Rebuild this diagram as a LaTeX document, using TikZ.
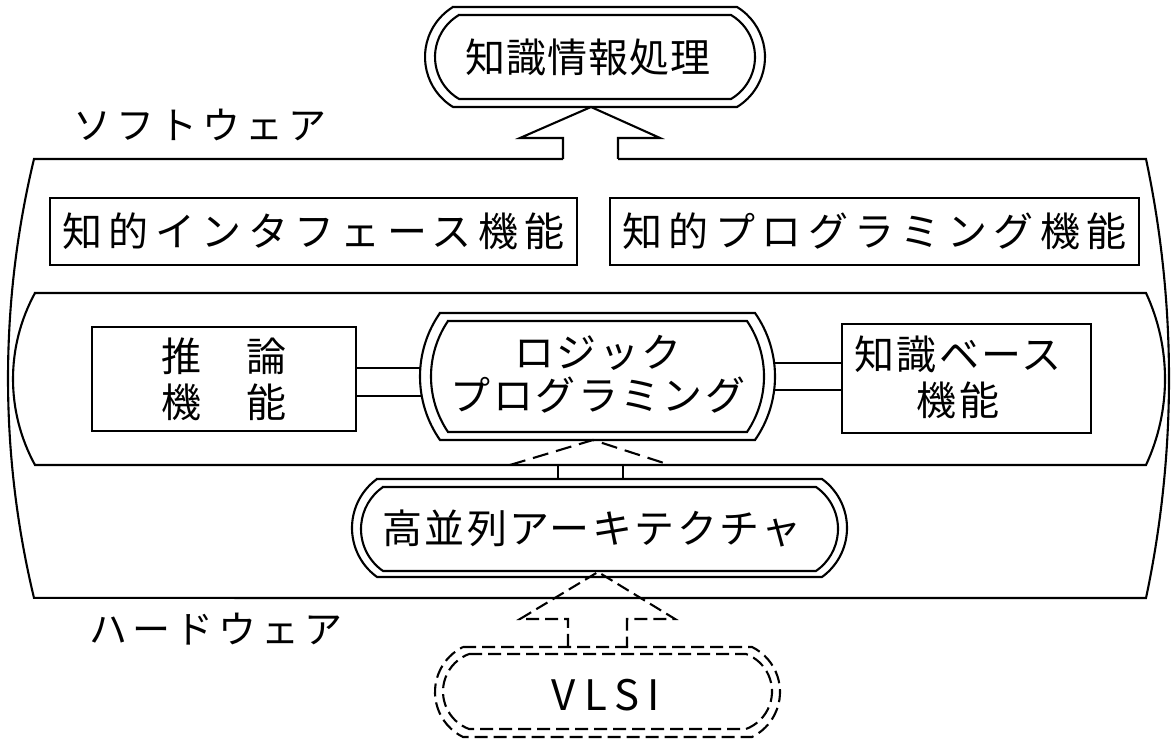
\documentclass[tikz,border=0pt]{standalone}
\usepackage{fontspec}
\newfontfamily\jpT[LetterSpace=2.5]{Noto Sans CJK JP}
\newfontfamily\jpA[LetterSpace=6]{Noto Sans CJK JP}
\newfontfamily\jpB[LetterSpace=16]{Noto Sans CJK JP}
\newfontfamily\jpL[LetterSpace=13]{Noto Sans CJK JP}
\newfontfamily\jpV[LetterSpace=20]{Noto Sans CJK JP}
\usetikzlibrary{calc}
% lens-ended box: #2 xl, #3 xr (corner x), #4 ybot, #5 ytop, #6 left sagitta, #7 right sagitta
\newcommand\lensbox[7][]{%
  \pgfmathsetmacro\lbh{(#5-#4)/2}%
  \pgfmathsetmacro\lbrL{\lbh*(\lbh/(2*#6))+#6/2}%
  \pgfmathsetmacro\lbaL{asin(\lbh/\lbrL)}%
  \pgfmathsetmacro\lbrR{\lbh*(\lbh/(2*#7))+#7/2}%
  \pgfmathsetmacro\lbaR{asin(\lbh/\lbrR)}%
  \draw[#1] (#2,#5) -- (#3,#5) arc[start angle=\lbaR, end angle=-\lbaR, radius=\lbrR]
    -- (#2,#4) arc[start angle={180+\lbaL}, end angle={180-\lbaL}, radius=\lbrL] -- cycle;}
\begin{document}
\begin{tikzpicture}[x=0.5pt,y=0.5pt,line width=1.05pt,line join=miter,
  lbl/.style={font=\jpL\fontsize{19pt}{22pt}\selectfont, inner sep=0},
  txt/.style={font=\jpA\fontsize{20pt}{23pt}\selectfont, inner sep=0, align=center},
  boxnode/.style={draw, fill=white, inner sep=0, align=center},
  dshA/.style={dash pattern=on 8pt off 4pt},
  dshV/.style={dash pattern=on 6.5pt off 3pt}]
\fill[white] (0,0) rectangle (1171,742);
\useasboundingbox (0,0) rectangle (1171,742);

% ---- outer big shape (software/hardware frame), open at the top for the arrow stem
\pgfmathsetmacro\oh{(583-144)/2}
\pgfmathsetmacro\orL{\oh*(\oh/52)+13}
\pgfmathsetmacro\oaL{asin(\oh/\orL)}
\pgfmathsetmacro\orR{\oh*(\oh/46)+11.5}
\pgfmathsetmacro\oaR{asin(\oh/\orR)}
\draw (563,583) -- (34,583) arc[start angle={180-\oaL}, end angle={180+\oaL}, radius=\orL]
  -- (1146,144) arc[start angle={-\oaR}, end angle=\oaR, radius=\orR] -- (618,583);

% ---- top node
\lensbox{453}{737}{635}{735}{28}{28}
\lensbox{459}{731}{643}{727}{24}{24}
\node[font=\jpT\fontsize{20pt}{23pt}\selectfont, inner sep=0] (top) at (588,685) {知識情報処理};
\coordinate (topB) at (591,635);
% hollow arrow up to the top node
\draw (563,583) -- (563,604) -- (520,604) -- (topB) -- (660,604) -- (618,604) -- (618,583);

\node[lbl] (soft) at (200,617) {ソフトウェア};

% ---- function boxes
\node[boxnode, minimum width={527*0.5pt}, minimum height={67*0.5pt},
      font=\jpB\fontsize{20pt}{23pt}\selectfont] (intf) at (313.5,510.5) {知的インタフェース機能};
\node[boxnode, minimum width={529*0.5pt}, minimum height={67*0.5pt},
      font=\jpB\fontsize{20pt}{23pt}\selectfont] (prog) at (874.5,510.5) {知的プログラミング機能};

% ---- inner lens shape
\lensbox{35}{1146}{277}{449}{22}{19}

\node[boxnode, minimum width={264*0.5pt}, minimum height={104*0.5pt}, txt] (suiron) at (224,363) {推　論\\機　能};
\node[boxnode, minimum width={249*0.5pt}, minimum height={109*0.5pt}, txt] (kb) at (966.5,363.5) {};
\node[txt] (kbt) at (958,365) {知識ベース\\機能};

\coordinate (logicC) at (597.5,365.5);
% double connectors
\draw ($(suiron.east)+(0,11)$) -- (logicC |- {$(suiron.east)+(0,11)$});
\draw ($(suiron.east)+(0,-17)$) -- (logicC |- {$(suiron.east)+(0,-17)$});
\draw ($(kb.west)+(0,15.5)$) -- (logicC |- {$(kb.west)+(0,15.5)$});
\draw ($(kb.west)+(0,-11.5)$) -- (logicC |- {$(kb.west)+(0,-11.5)$});

% logic programming node
\lensbox[fill=white]{440}{755}{302}{429}{20}{20}
\lensbox{448}{747}{310}{421}{17}{17}
\node[txt, font=\jpA\fontsize{20pt}{21.5pt}\selectfont] (logic) at (598,368) {ロジック\\プログラミング};

% dashed arrow from architecture to logic programming
\coordinate (logicB) at (593,302);
\draw[dshA] (510,277) -- (logicB) -- (670,277);
\draw (558,277) -- (558,263);
\draw (623,277) -- (623,263);

% ---- architecture node
\lensbox{377}{822}{165}{263}{25}{25}
\lensbox{383}{816}{171}{255}{22}{22}
\node[txt] (arch) at (592,214) {高並列アーキテクチャ};
\coordinate (archB) at (598,170);

\node[lbl] (hard) at (216,113) {ハードウェア};

% ---- dashed arrow from VLSI
\draw[dshV] (568,95) -- (568,123) -- (520,123) -- (archB) -- (675,123) -- (627,123) -- (627,95);

% ---- VLSI node
\lensbox[dshV]{463}{752}{5}{95}{28}{28}
\lensbox[dshV]{469}{746}{13}{88}{26}{26}
\node[font=\jpV\fontsize{21pt}{24pt}\selectfont, inner sep=0] (vlsi) at (606,47) {VLSI};
\end{tikzpicture}
\end{document}
